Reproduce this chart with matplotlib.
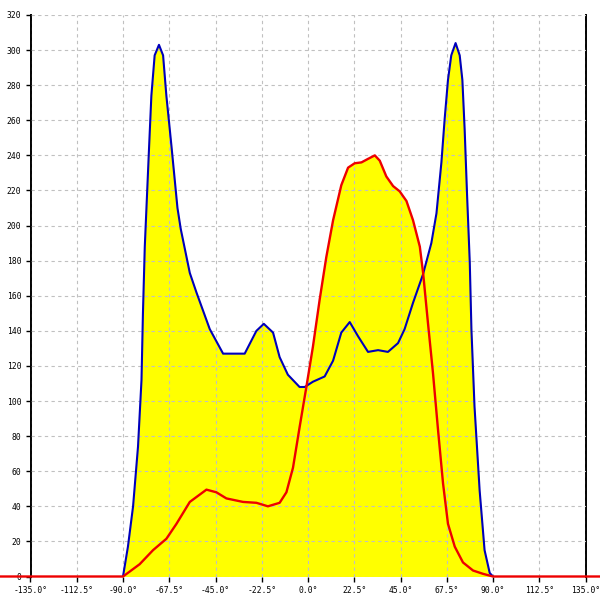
import matplotlib
matplotlib.use("Agg")
import matplotlib.pyplot as plt

# blue series (angle in degrees, value)
blue_x = [-90, -87.6, -85.1, -82.7, -81.0, -80.3, -79.4, -77.3, -76.2, -74.6, -72.5,
          -70.5, -68.9, -66.4, -63.5, -61.9, -57.5, -54.3, -47.8, -41.3, -36.5, -30.8,
          -25.1, -21.5, -17.0, -13.8, -9.8, -4.1, -1.6, 2.4, 8.1, 12.2, 16.2, 20.3,
          24.3, 29.2, 34.1, 38.9, 43.8, 47.0, 51.1, 55.9, 60.0, 62.5, 64.9, 66.5,
          68.1, 69.7, 71.8, 73.8, 75.1, 76.2, 77.4, 78.7, 79.5, 81.0, 83.5, 85.9,
          88.4, 90]
blue_y = [0, 17, 40, 74, 112, 150, 188, 245, 274, 297, 303,
          297, 274, 245, 210, 198, 173, 162, 141, 127, 127, 127,
          140, 144, 139, 125, 115, 108, 108, 111, 114, 123, 139, 145,
          137, 128, 129, 128, 133, 141, 156, 172, 190, 207, 236, 261,
          283, 297, 304, 297, 283, 255, 217, 179, 141, 97, 49, 15,
          2, 0]

# red series, zero outside [-90, 90]
red_x = [-180, -90, -81.9, -75.4, -68.9, -64.0, -57.5, -49.4, -44.6, -39.7, -31.6,
         -25.1, -19.5, -13.8, -10.5, -7.3, -4.1, -0.8, 2.4, 5.7, 8.9, 12.2, 16.2,
         19.5, 22.7, 26.0, 29.2, 32.5, 34.9, 38.1, 41.4, 44.6, 47.9, 51.1, 54.4,
         56.0, 58.4, 60.8, 63.3, 65.7, 68.1, 71.4, 75.4, 80.3, 85.2, 90, 180]
red_y = [0, 0, 7, 15, 21.5, 30, 42.5, 49.5, 48, 44.5, 42.5,
         42, 40, 42, 48, 62, 85, 108, 131, 158, 182, 203, 223,
         233, 235.5, 236, 238, 240, 237, 228, 222.5, 219.5, 214, 203, 188,
         173, 144, 116, 83, 53, 30, 17, 8, 3.4, 1.5, 0, 0]

x_ticks = [-135, -112.5, -90, -67.5, -45, -22.5, 0, 22.5, 45, 67.5, 90, 112.5, 135]
y_ticks = list(range(0, 321, 20))

fig = plt.figure(figsize=(6, 6), dpi=100)
ax = fig.add_axes([30.5 / 600, 23.5 / 600, 555 / 600, 561.5 / 600])

ax.fill_between(blue_x, 0, blue_y, color="#ffff00", lw=0, zorder=1)
ax.fill_between(red_x, 0, red_y, color="#ffff00", lw=0, zorder=1)
ax.plot(blue_x, blue_y, color="#0000bb", lw=1.5, zorder=3)
ax.plot(red_x, red_y, color="#ee0000", lw=1.7, zorder=4, clip_on=False)

ax.set_xlim(-135, 135)
ax.set_ylim(0, 320)
ax.set_xticks(x_ticks)
ax.set_xticklabels([f"{t:.1f}°" for t in x_ticks])
ax.set_yticks(y_ticks)
ax.set_yticklabels([str(t) for t in y_ticks])

ax.grid(True, color="#c0c0c0", linestyle=(0, (3, 3)), lw=0.8, zorder=2)
ax.set_axisbelow(False)

ax.spines["top"].set_visible(False)
ax.spines["bottom"].set_visible(False)
ax.spines["left"].set_linewidth(1.4)
ax.spines["right"].set_linewidth(1.4)

ax.tick_params(axis="both", direction="out", length=3.5, width=1, color="black",
               labelsize=5.8)
ax.tick_params(axis="x", pad=3)
ax.tick_params(axis="y", pad=3)
for lbl in ax.get_xticklabels() + ax.get_yticklabels():
    lbl.set_family("DejaVu Sans Mono")

fig.savefig("out.png", dpi=100)
